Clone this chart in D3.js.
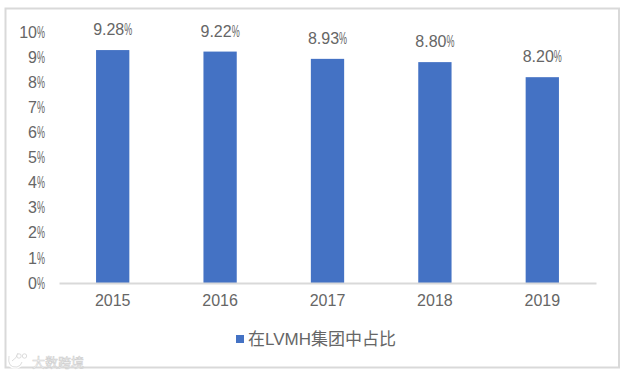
<!DOCTYPE html>
<html><head><meta charset="utf-8">
<script src="https://cdnjs.cloudflare.com/ajax/libs/d3/7.8.5/d3.min.js"></script>
<style>html,body{margin:0;padding:0;background:#fff}svg{display:block}
text{font-family:"Liberation Sans",Arial,sans-serif}</style></head><body>
<div id="c"></div>
<script>
const years = ["2015","2016","2017","2018","2019"];
const shares = [9.28,9.22,8.93,8.80,8.20];
const valueLabels = ["9.28","9.22","8.93","8.80","8.20"];
const yTicks = [0,1,2,3,4,5,6,7,8,9,10];
const legendLabel = "在LVMH集团中占比";
const watermark = "大数跨境";

const W=627,H=374;
const svg=d3.select("#c").append("svg").attr("width",W).attr("height",H);
svg.append("rect").attr("x",5.5).attr("y",8.5).attr("width",613.5).attr("height",359)
  .attr("fill","#fff").attr("stroke","#d9d9d9").attr("stroke-width",2);

const x=d3.scaleBand().domain(years).range([59,596]).paddingInner(0.69).paddingOuter(0.345);
const y=d3.scaleLinear().domain([0,10]).range([283,32]);

function pct(sel,fs){ // narrow percent sign as in the source
  sel.each(function(){
    const t=d3.select(this), s=t.attr("data-v");
    t.text(null);
    t.append("tspan").text(s);
    t.append("tspan").attr("textLength",fs*0.5).attr("lengthAdjust","spacingAndGlyphs").text("%");
  });
}

svg.selectAll("rect.bar").data(years).join("rect").attr("class","bar")
  .attr("x",d=>x(d)).attr("width",x.bandwidth())
  .attr("y",(d,i)=>y(shares[i])).attr("height",(d,i)=>y(0)-y(shares[i]))
  .attr("fill","#4472c4");

const gx=svg.append("g").attr("transform","translate(0,283)")
  .call(d3.axisBottom(x).tickSize(0).tickPadding(12));
gx.select(".domain").attr("stroke","#d9d9d9").attr("stroke-width",2);
gx.selectAll("text").attr("font-size",16).attr("fill","#666").style("font-family",'"Liberation Sans"');

const gy=svg.append("g").attr("transform","translate(45,0)")
  .call(d3.axisLeft(y).tickValues(yTicks).tickSize(0).tickPadding(0));
gy.select(".domain").remove();
gy.selectAll("text").attr("font-size",16).attr("fill","#666").style("font-family",'"Liberation Sans"')
  .attr("data-v",d=>d).call(pct,16);

svg.selectAll("text.val").data(years).join("text").attr("class","val")
  .attr("x",d=>x(d)+x.bandwidth()/2)
  .attr("y",(d,i)=>y(shares[i])-15)
  .attr("text-anchor","middle").attr("font-size",16).attr("fill","#666")
  .attr("data-v",(d,i)=>valueLabels[i]).call(pct,16);

svg.append("rect").attr("x",236).attr("y",335).attr("width",8).attr("height",8).attr("fill","#4472c4");
svg.append("text").attr("x",248).attr("y",345).attr("font-size",17).attr("fill","#666")
  .style("font-family",'"Liberation Sans","Noto Sans CJK SC"').text(legendLabel);

const wm=svg.append("g");
wm.append("text").attr("x",32).attr("y",367).attr("font-size",13).attr("fill","#fff")
  .attr("stroke","#cfcfcf").attr("stroke-width",0.6)
  .style("font-family",'"Noto Sans CJK SC"').text(watermark);
wm.append("path").attr("d","M9,356 Q7,368 17,367 Q21,366 22,362 M12,361 Q17,358 18,353")
  .attr("fill","none").attr("stroke","#fff").attr("stroke-width",3);
wm.append("path").attr("d","M9,356 Q7,368 17,367 Q21,366 22,362 M12,361 Q17,358 18,353")
  .attr("fill","none").attr("stroke","#cfcfcf").attr("stroke-width",0.7);
wm.selectAll("circle").data([19,24.5]).join("circle").attr("cx",d=>d).attr("cy",356).attr("r",2.2)
  .attr("fill","#fff").attr("stroke","#cfcfcf").attr("stroke-width",0.7);
</script></body></html>
